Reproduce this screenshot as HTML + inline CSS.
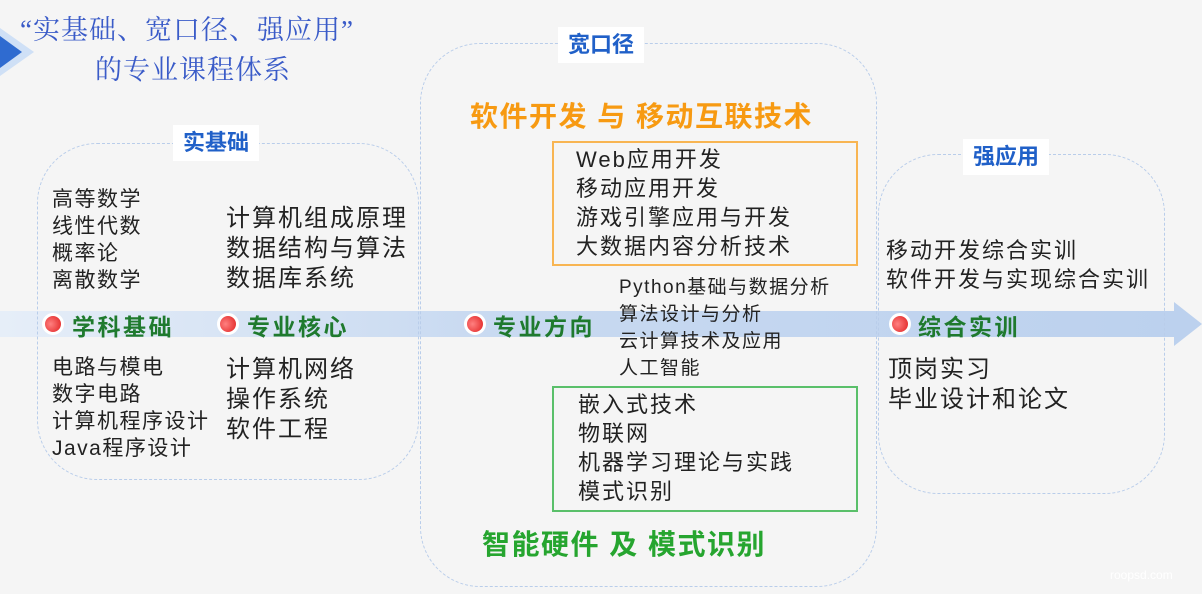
<!DOCTYPE html>
<html><head><meta charset="utf-8"><style>
body{margin:0;width:1202px;height:594px;background:#f5f5f5;position:relative;overflow:hidden;font-family:"Liberation Sans","Noto Sans CJK SC",sans-serif;color:#222}
.a{position:absolute;white-space:nowrap}
.box{position:absolute;border:1.5px dashed #b9cdea;border-radius:60px}
.lbl{position:absolute;background:#fff;color:#2060c8;font-weight:bold;font-size:22px;padding:4px 10px;line-height:28px}
.l{font-size:21px;line-height:27px;letter-spacing:1.5px}
.l2{font-size:24px;line-height:30px;letter-spacing:2px}
.g{color:#1f7a2e;font-weight:bold;font-size:23px;letter-spacing:2.5px}
.dot{position:absolute;width:16px;height:16px;border-radius:50%;background:radial-gradient(circle at 35% 50%,#ff8080,#e02020);border:3px solid #fff}
</style></head><body>
<div class="a" style="left:0;top:28px;width:0;height:0;border-top:24px solid transparent;border-bottom:24px solid transparent;border-left:34px solid #cfe0f6"></div>
<div class="a" style="left:0;top:36px;width:0;height:0;border-top:16px solid transparent;border-bottom:16px solid transparent;border-left:22px solid #2f6bd0"></div>
<div class="a" style="left:20px;top:8px;font-family:'Liberation Serif','Noto Serif CJK SC',serif;font-size:27px;color:#3a5bc8;letter-spacing:1px">“实基础、宽口径、强应用”</div>
<div class="a" style="left:95px;top:48px;font-family:'Liberation Serif','Noto Serif CJK SC',serif;font-size:27px;color:#3a5bc8;letter-spacing:1px">的专业课程体系</div>

<div class="a" style="left:0;top:311px;width:1175px;height:26px;background:linear-gradient(90deg,#e6eef8,#c9daf1 40%,#bcd1ee)"></div>
<div class="a" style="left:1174px;top:302px;width:0;height:0;border-top:22px solid transparent;border-bottom:22px solid transparent;border-left:28px solid #bcd1ee"></div>

<div class="box" style="left:37px;top:143px;width:380px;height:335px"></div>
<div class="box" style="left:420px;top:43px;width:455px;height:542px"></div>
<div class="box" style="left:878px;top:154px;width:285px;height:338px"></div>
<div class="lbl" style="left:173px;top:125px">实基础</div>
<div class="lbl" style="left:558px;top:27px">宽口径</div>
<div class="lbl" style="left:963px;top:139px">强应用</div>

<div class="a l" style="left:52px;top:186px">高等数学<br>线性代数<br>概率论<br>离散数学</div>
<div class="a l" style="left:52px;top:354px">电路与模电<br>数字电路<br>计算机程序设计<br>Java程序设计</div>
<div class="a l2" style="left:226px;top:204px">计算机组成原理<br>数据结构与算法<br>数据库系统</div>
<div class="a l2" style="left:226px;top:355px">计算机网络<br>操作系统<br>软件工程</div>

<div class="dot" style="left:42px;top:313px"></div><div class="a g" style="left:72px;top:308px">学科基础</div>
<div class="dot" style="left:217px;top:313px"></div><div class="a g" style="left:247px;top:308px">专业核心</div>
<div class="dot" style="left:464px;top:313px"></div><div class="a g" style="left:493px;top:308px">专业方向</div>
<div class="dot" style="left:889px;top:313px"></div><div class="a g" style="left:918px;top:308px">综合实训</div>

<div class="a" style="left:470px;top:95px;font-size:28px;font-weight:bold;color:#f79a12;letter-spacing:1.5px">软件开发 与 移动互联技术</div>
<div class="a" style="left:552px;top:141px;width:302px;height:121px;border:2px solid #f8b552"></div>
<div class="a l" style="left:576px;top:145px;line-height:29px;font-size:22px;letter-spacing:2px">Web应用开发<br>移动应用开发<br>游戏引擎应用与开发<br>大数据内容分析技术</div>
<div class="a" style="left:619px;top:274px;font-size:19px;line-height:27px;letter-spacing:1.5px">Python基础与数据分析<br>算法设计与分析<br>云计算技术及应用<br>人工智能</div>
<div class="a" style="left:552px;top:386px;width:302px;height:122px;border:2px solid #5ac06a"></div>
<div class="a l" style="left:578px;top:390px;line-height:29px;font-size:22px;letter-spacing:2px">嵌入式技术<br>物联网<br>机器学习理论与实践<br>模式识别</div>
<div class="a" style="left:482px;top:523px;font-size:28px;font-weight:bold;color:#26a52f;letter-spacing:1.5px">智能硬件 及 模式识别</div>

<div class="a l" style="left:886px;top:236px;line-height:29px;font-size:22px;letter-spacing:2px">移动开发综合实训<br>软件开发与实现综合实训</div>
<div class="a l2" style="left:888px;top:355px">顶岗实习<br>毕业设计和论文</div>
<div class="a" style="left:1110px;top:568px;font-size:12px;color:#fff">roopsd.com</div>
</body></html>
